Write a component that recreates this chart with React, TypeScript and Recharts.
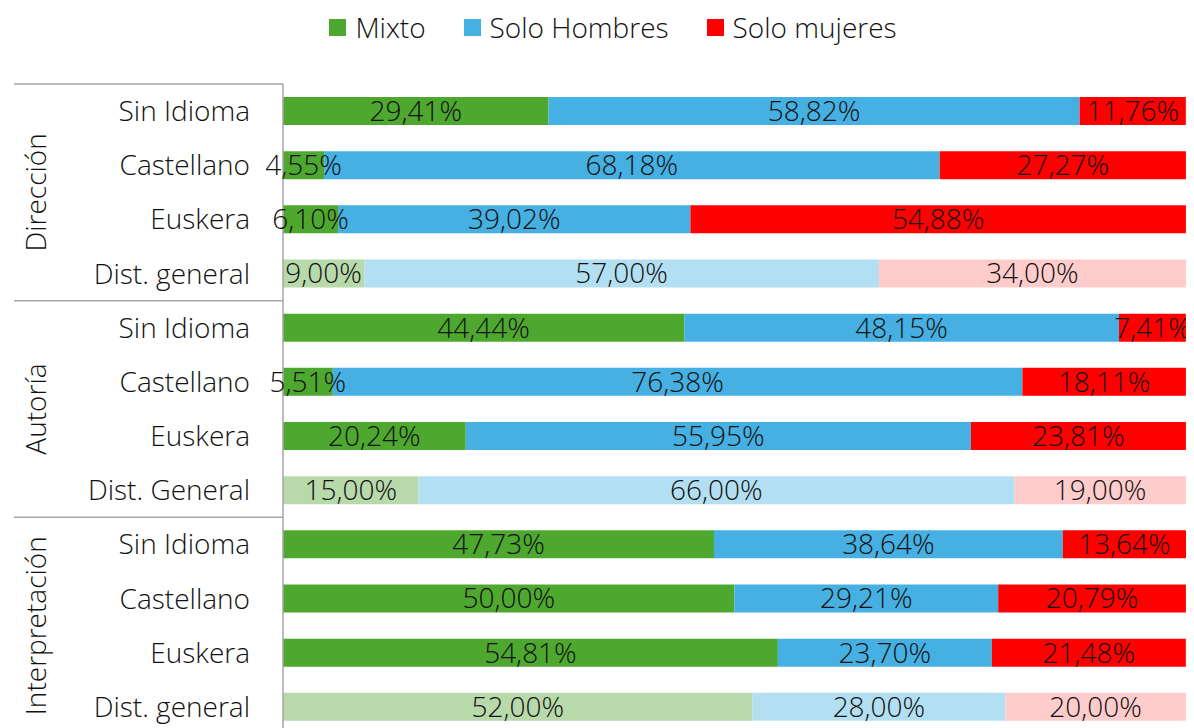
import React from 'react';
import { BarChart, Bar, XAxis, YAxis, LabelList, Cell } from 'recharts';

const groups = ['Dirección', 'Autoría', 'Interpretación'];
const rowLabels = [
  'Sin Idioma', 'Castellano', 'Euskera', 'Dist. general',
  'Sin Idioma', 'Castellano', 'Euskera', 'Dist. General',
  'Sin Idioma', 'Castellano', 'Euskera', 'Dist. general',
];
const mixto = [29.41, 4.55, 6.1, 9.0, 44.44, 5.51, 20.24, 15.0, 47.73, 50.0, 54.81, 52.0];
const soloHombres = [58.82, 68.18, 39.02, 57.0, 48.15, 76.38, 55.95, 66.0, 38.64, 29.21, 23.7, 28.0];
const soloMujeres = [11.76, 27.27, 54.88, 34.0, 7.41, 18.11, 23.81, 19.0, 13.64, 20.79, 21.48, 20.0];

const FONT = '"Open Sans", sans-serif';
const TEXT = '#111';
const GRID = '#a6a6a6';
const FS = 28;

const series = [
  { key: 'mixto', name: 'Mixto', color: '#4ea72e', light: '#b8d9aa' },
  { key: 'hombres', name: 'Solo Hombres', color: '#45b0e1', light: '#b3dff2' },
  { key: 'mujeres', name: 'Solo mujeres', color: '#ff0000', light: '#ffcccc' },
];

const data = rowLabels.map((label, i) => ({
  id: 'r' + i,
  label,
  dist: i % 4 === 3,
  mixto: mixto[i],
  hombres: soloHombres[i],
  mujeres: soloMujeres[i],
}));

const fmt = (v: any) => Number(v).toFixed(2).replace('.', ',') + '%';

const BAND = 54.2;

const RowTick = (props: any) => {
  const { x, y, payload } = props;
  const i = Number(String(payload.value).slice(1));
  const isFirst = i % 4 === 0;
  return (
    <g>
      <text x={x - 33} y={y} dy={10} textAnchor="end" fontSize={FS} fontWeight={300} fontFamily={FONT} fill={TEXT}>
        {rowLabels[i]}
      </text>
      {isFirst && (
        <>
          <line x1={6} x2={x} y1={y - BAND / 2} y2={y - BAND / 2} stroke={GRID} strokeWidth={1.5} />
          <text
            x={0}
            y={0}
            transform={`translate(38, ${y + BAND * 1.5}) rotate(-90)`}
            textAnchor="middle"
            fontSize={FS}
            fontWeight={300}
            fontFamily={FONT}
            fill={TEXT}
          >
            {groups[i / 4]}
          </text>
        </>
      )}
    </g>
  );
};

const ChartLegend = () => (
  <div
    style={{
      position: 'absolute',
      top: 0,
      left: 0,
      width: 1186,
      height: 38,
      display: 'flex',
      justifyContent: 'center',
      alignItems: 'center',
      gap: 38,
      fontFamily: FONT,
      fontSize: FS,
      fontWeight: 300,
      color: TEXT,
      paddingLeft: 24,
      boxSizing: 'border-box',
    }}
  >
    {series.map((s) => (
      <div key={s.key} style={{ display: 'flex', alignItems: 'center' }}>
        <span style={{ width: 17, height: 17, background: s.color, display: 'inline-block', marginRight: 9 }} />
        <span>{s.name}</span>
      </div>
    ))}
  </div>
);

export default function App() {
  return (
    <div style={{ position: 'relative', width: 1186, height: 730, background: '#fff' }}>
      <ChartLegend />
      <BarChart
        width={1186}
        height={730}
        data={data}
        layout="vertical"
        margin={{ top: 76, right: 8, bottom: 4, left: 0 }}
        barSize={28}
      >
        <XAxis type="number" domain={[0, 100]} hide />
        <YAxis
          type="category"
          dataKey="id"
          width={275}
          tickLine={false}
          tickSize={0}
          tickMargin={0}
          axisLine={{ stroke: GRID, strokeWidth: 1.5 }}
          tick={<RowTick />}
          interval={0}
        />
        {series.map((s) => (
          <Bar key={s.key} dataKey={s.key} name={s.name} stackId="a" fill={s.color} isAnimationActive={false}>
            {data.map((d) => (
              <Cell key={d.id} fill={d.dist ? s.light : s.color} />
            ))}
            <LabelList
              dataKey={s.key}
              position="center"
              formatter={fmt}
              fill={TEXT}
              fontSize={FS}
              fontWeight={300}
              fontFamily={FONT}
            />
          </Bar>
        ))}
      </BarChart>
    </div>
  );
}
